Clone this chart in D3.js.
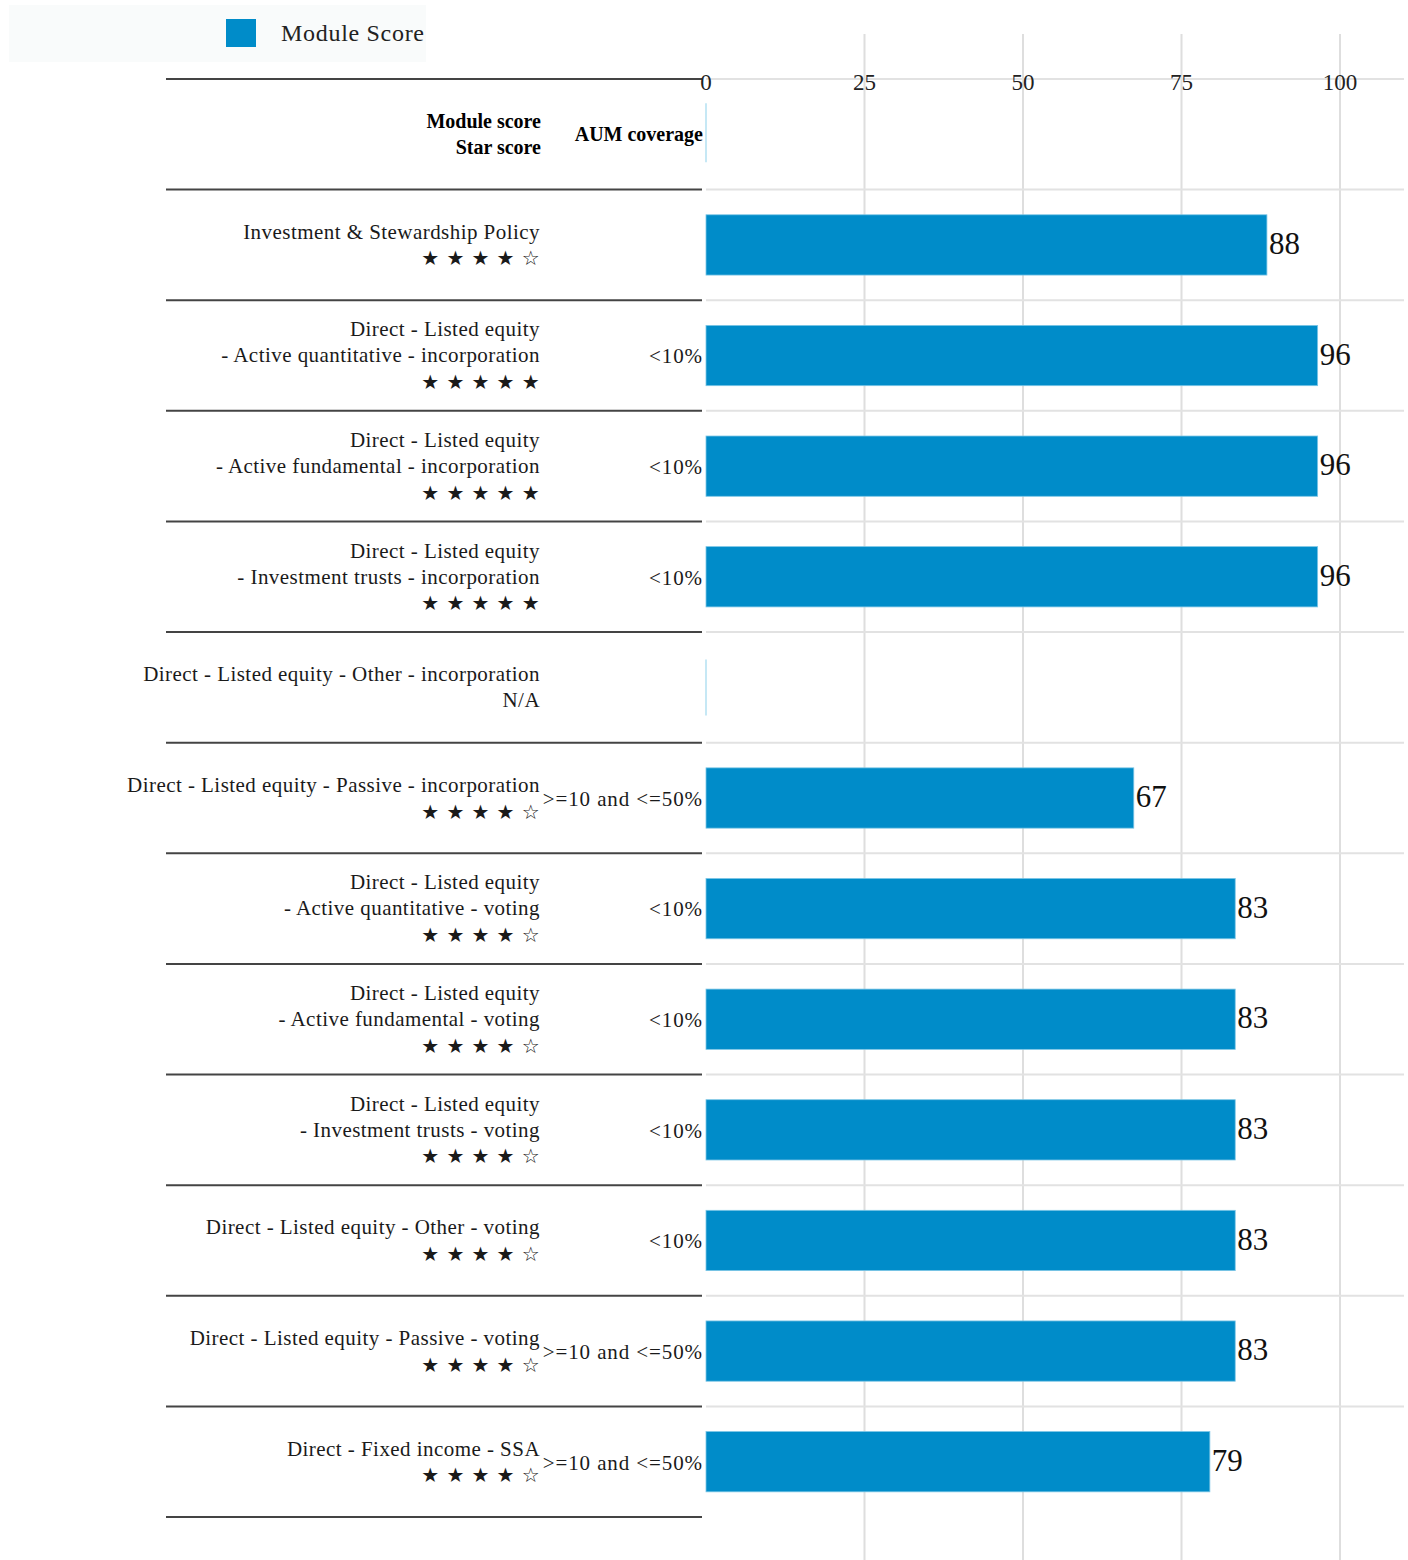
<!DOCTYPE html>
<html>
<head>
<meta charset="utf-8">
<script src="https://cdn.jsdelivr.net/npm/d3@7"></script>
<style>
  body { margin: 0; background: #fff; }
  svg { display: block; font-family: "Liberation Serif", "DejaVu Serif", serif; }
</style>
</head>
<body>
<svg id="chart" width="1408" height="1560"></svg>
<script>
// --- Data ---
const rowLabels = [
    ["Investment & Stewardship Policy"],
    ["Direct - Listed equity", "- Active quantitative - incorporation"],
    ["Direct - Listed equity", "- Active fundamental - incorporation"],
    ["Direct - Listed equity", "- Investment trusts - incorporation"],
    ["Direct - Listed equity - Other - incorporation"],
    ["Direct - Listed equity - Passive - incorporation"],
    ["Direct - Listed equity", "- Active quantitative - voting"],
    ["Direct - Listed equity", "- Active fundamental - voting"],
    ["Direct - Listed equity", "- Investment trusts - voting"],
    ["Direct - Listed equity - Other - voting"],
    ["Direct - Listed equity - Passive - voting"],
    ["Direct - Fixed income - SSA"]
];
const moduleScores = [88, 96, 96, 96, null, 67, 83, 83, 83, 83, 83, 79];
const starScores = [4, 5, 5, 5, null, 4, 4, 4, 4, 4, 4, 4];
const aumCoverage = ["", "<10%", "<10%", "<10%", "", ">=10 and <=50%",
    "<10%", "<10%", "<10%", "<10%", ">=10 and <=50%", ">=10 and <=50%"];
const xTicks = [0, 25, 50, 75, 100];
const legendLabel = "Module Score";

// --- Setup ---
const svg = d3.select("#chart");
const barColor = "#008cc9";
const labelRight = 540;
const aumRight = 703;
const lineLeft = 166;
const lineRight = 702;

const rowKeys = ["header"].concat(rowLabels.map((d, i) => "r" + i));
const y = d3.scaleBand().domain(rowKeys).range([79, 1517]);
const x = d3.scaleLinear().domain([0, 100]).range([706, 1340]);
const barH = y.bandwidth() * 0.545;

const rows = rowLabels.map((lab, i) => ({
    key: "r" + i,
    lines: lab.concat([starScores[i] == null ? "N/A" :
        d3.range(5).map(k => k < starScores[i] ? "\u2605" : "\u2606").join(" ")]),
    score: moduleScores[i],
    aum: aumCoverage[i]
}));

// --- Legend ---
svg.append("rect").attr("x", 9).attr("y", 5).attr("width", 417).attr("height", 57)
    .attr("fill", "#f9fbfb");
svg.append("rect").attr("x", 226).attr("y", 19).attr("width", 30).attr("height", 28)
    .attr("fill", barColor);
svg.append("text").attr("x", 281).attr("y", 35).attr("dominant-baseline", "middle")
    .attr("font-size", 24).attr("letter-spacing", 0.7).attr("fill", "#222").text(legendLabel);

// --- Grid ---
svg.append("g").selectAll("line").data(xTicks.filter(d => d > 0)).join("line")
    .attr("x1", d => x(d)).attr("x2", d => x(d))
    .attr("y1", 34).attr("y2", 1560)
    .attr("stroke", "#dedede").attr("stroke-width", 2);

const bounds = rowKeys.map(k => y(k)).concat([y.range()[1]]);
svg.append("g").selectAll("line").data(bounds.slice(0, -1)).join("line")
    .attr("x1", 706).attr("x2", 1404)
    .attr("y1", d => d).attr("y2", d => d)
    .attr("stroke", "#e2e2e2").attr("stroke-width", 2);

svg.append("g").selectAll("line").data(bounds).join("line")
    .attr("x1", lineLeft).attr("x2", lineRight)
    .attr("y1", d => d).attr("y2", d => d)
    .attr("stroke", "#444").attr("stroke-width", 2);

// --- Axis labels ---
svg.append("g").selectAll("text").data(xTicks).join("text")
    .attr("x", d => x(d)).attr("y", 85)
    .attr("text-anchor", "middle").attr("dominant-baseline", "middle")
    .attr("font-size", 23).attr("fill", "#222")
    .text(d => d);

// --- Header row ---
const hc = y("header") + y.bandwidth() / 2;
svg.append("text").attr("x", 541).attr("y", hc - 11).attr("text-anchor", "end")
    .attr("dominant-baseline", "middle").attr("font-size", 20).attr("font-weight", "bold")
    .text("Module score");
svg.append("text").attr("x", 541).attr("y", hc + 15).attr("text-anchor", "end")
    .attr("dominant-baseline", "middle").attr("font-size", 20).attr("font-weight", "bold")
    .text("Star score");
svg.append("text").attr("x", aumRight).attr("y", hc + 2).attr("text-anchor", "end")
    .attr("dominant-baseline", "middle").attr("font-size", 20).attr("font-weight", "bold")
    .text("AUM coverage");
svg.append("line").attr("x1", x(0)).attr("x2", x(0))
    .attr("y1", hc - 31).attr("y2", hc + 28)
    .attr("stroke", "#b3e0f2").attr("stroke-width", 1.5);

// --- Rows ---
const rowG = svg.append("g").selectAll("g").data(rows).join("g")
    .attr("transform", d => `translate(0,${y(d.key) + y.bandwidth() / 2})`);

rowG.each(function(d) {
    const g = d3.select(this);
    const n = d.lines.length;
    const isStars = (t, i) => i === n - 1 && d.score != null;
    g.selectAll("text.lab").data(d.lines).join("text")
        .attr("class", "lab")
        .attr("x", labelRight)
        .attr("y", (t, i) => (i - (n - 1) / 2) * 26 + 2)
        .attr("text-anchor", "end").attr("dominant-baseline", "middle")
        .attr("font-size", (t, i) => isStars(t, i) ? 20 : 21)
        .attr("letter-spacing", (t, i) => isStars(t, i) ? 0.4 : 0.45)
        .attr("font-family", (t, i) => isStars(t, i) ? "DejaVu Sans" : null)
        .attr("fill", "#1a1a1a")
        .text(t => t);
});

rowG.append("text")
    .attr("x", aumRight).attr("y", 3)
    .attr("text-anchor", "end").attr("dominant-baseline", "middle")
    .attr("font-size", 21).attr("letter-spacing", 0.9).attr("fill", "#1a1a1a")
    .text(d => d.aum);

rowG.filter(d => d.score != null).append("rect")
    .attr("x", x(0)).attr("y", -barH / 2)
    .attr("width", d => x(d.score) - x(0) + 3).attr("height", barH)
    .attr("fill", barColor).attr("stroke", "#7cc6e6").attr("stroke-width", 0.8);

rowG.filter(d => d.score == null).append("line")
    .attr("x1", x(0)).attr("x2", x(0)).attr("y1", -28).attr("y2", 28)
    .attr("stroke", "#b3e0f2").attr("stroke-width", 1.5);

rowG.filter(d => d.score != null).append("text")
    .attr("x", d => x(d.score) + 5).attr("y", 2)
    .attr("dominant-baseline", "middle")
    .attr("font-size", 31).attr("fill", "#111")
    .text(d => d.score);
</script>
</body>
</html>
